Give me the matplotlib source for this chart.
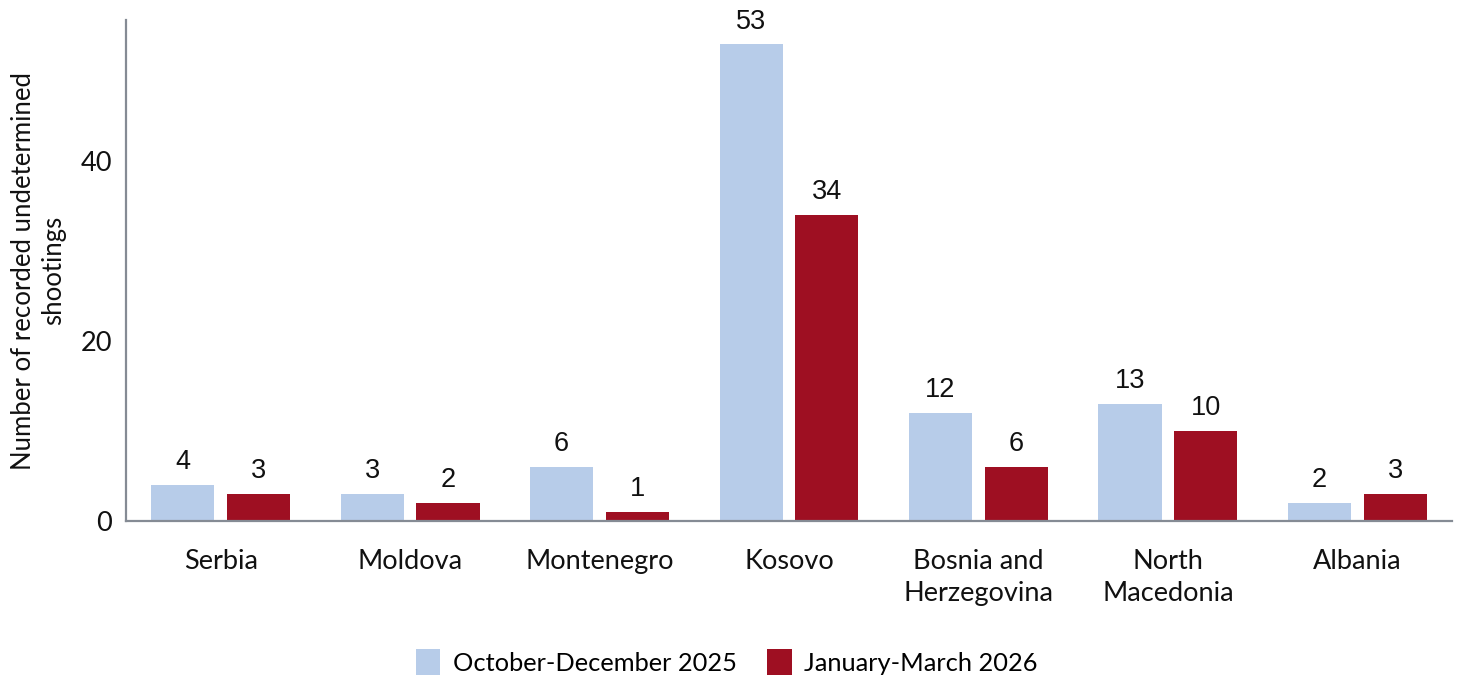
import matplotlib
matplotlib.use("Agg")
import matplotlib.pyplot as plt
import numpy as np
from matplotlib.patches import Patch

categories = ["Serbia", "Moldova", "Montenegro", "Kosovo", "Bosnia and\nHerzegovina", "North\nMacedonia", "Albania"]
series_names = ["October-December 2025", "January-March 2026"]
oct_dec_2025 = [4, 3, 6, 53, 12, 13, 2]
jan_mar_2026 = [3, 2, 1, 34, 6, 10, 3]
y_ticks = [0, 20, 40]
y_label = "Number of recorded undetermined\nshootings"

c_light = "#B7CCE9"
c_red = "#9E0F22"
spine_c = "#858B94"

plt.rcParams['font.family'] = ['Lato', 'DejaVu Sans']

W, H = 1458, 678
fig = plt.figure(figsize=(W/100, H/100), dpi=100)
ax = fig.add_axes([126/W, (H-521)/H, (1452-126)/W, (521-20)/H])

x = np.arange(len(categories))
bw = 0.333
b1 = ax.bar(x - 0.2, oct_dec_2025, bw, color=c_light, label=series_names[0])
b2 = ax.bar(x + 0.2, jan_mar_2026, bw, color=c_red, label=series_names[1])

for bars, vals in ((b1, oct_dec_2025), (b2, jan_mar_2026)):
    for r, v in zip(bars, vals):
        ax.annotate(str(v), (r.get_x() + r.get_width()/2, r.get_height()),
                    xytext=(0, 7), textcoords="offset points",
                    ha="center", va="bottom", fontsize=19.5,
                    family=["Liberation Sans", "DejaVu Sans"], color="#111111")

ax.set_xlim(-0.5, len(categories) - 0.5)
ax.set_ylim(0, 55.7)
ax.set_yticks(y_ticks)
ax.set_xticks(x)
ax.set_xticklabels(categories, fontsize=19.5, linespacing=1.37)
ax.tick_params(axis='both', length=0, labelsize=19.5, colors="#111111")
ax.tick_params(axis='x', pad=20)
ax.tick_params(axis='y', pad=10)
ax.set_ylabel(y_label, fontsize=18.5, linespacing=1.25, color="#111111")
ax.yaxis.set_label_coords(-(126 - 66) / (1452 - 126), 0.5)

for s in ("top", "right"):
    ax.spines[s].set_visible(False)
for s in ("left", "bottom"):
    ax.spines[s].set_color(spine_c)
    ax.spines[s].set_linewidth(1.6)

handles = [Patch(facecolor=c_light, label=series_names[0]),
           Patch(facecolor=c_red, label=series_names[1])]
fig.legend(handles=handles, loc="center", bbox_to_anchor=(727/W, (H-662)/H),
           ncol=2, frameon=False, fontsize=18.3, handlelength=0.95, handleheight=1.2,
           handletextpad=0.5, columnspacing=1.2)

fig.savefig("out.png", dpi=100)
